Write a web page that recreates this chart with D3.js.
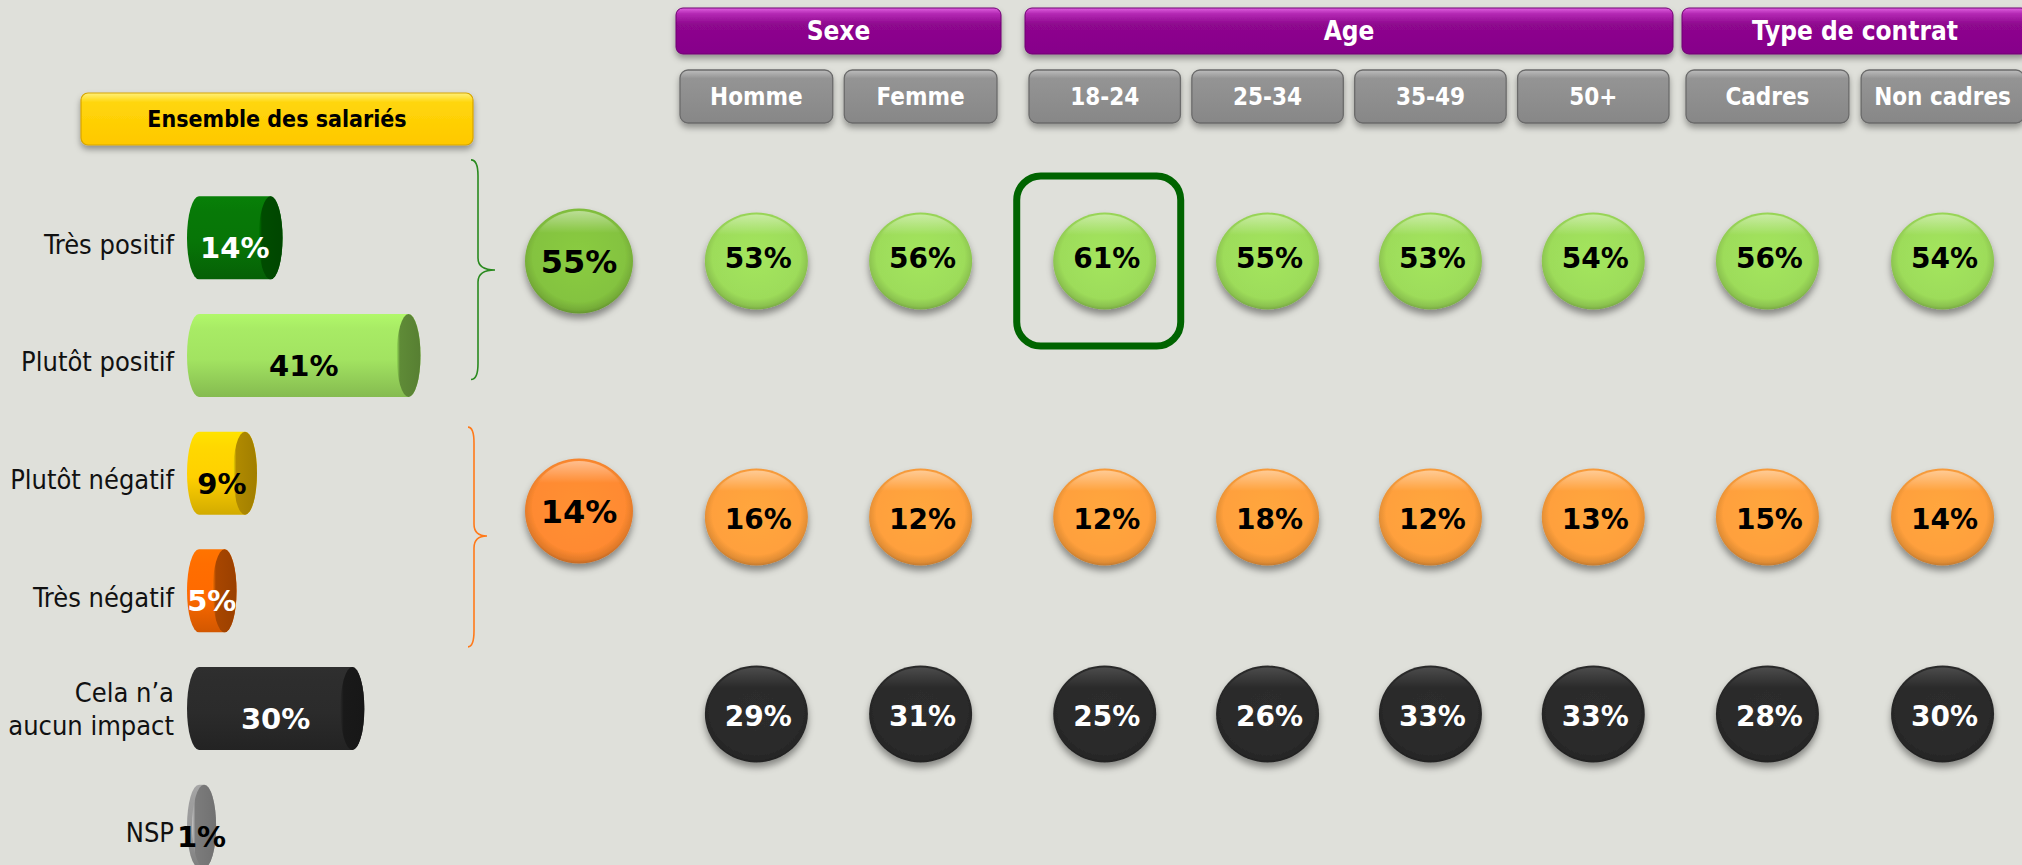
<!DOCTYPE html>
<html><head><meta charset="utf-8">
<script src="https://cdn.jsdelivr.net/npm/d3@7"></script>
<style>
html,body{margin:0;padding:0;background:#dfe0da;overflow:hidden}
svg{display:block}
</style></head><body>
<svg id="chart" width="2022" height="865"></svg>
<script>
// ---------------- DATA ----------------
const totalsLabel = "Ensemble des salariés";
const segments = ["Très positif", "Plutôt positif", "Plutôt négatif", "Très négatif", "Cela n’a\naucun impact", "NSP"];
const overallValues = [14, 41, 9, 5, 30, 1];
const groups = ["Sexe", "Age", "Type de contrat"];
const categories = ["Homme", "Femme", "18-24", "25-34", "35-49", "50+", "Cadres", "Non cadres"];
const categoryGroup = ["Sexe", "Sexe", "Age", "Age", "Age", "Age", "Type de contrat", "Type de contrat"];
const rows = ["Positif", "Négatif", "Aucun impact"];
const overallRowValues = [55, 14];
const positiveValues = [53, 56, 61, 55, 53, 54, 56, 54];
const negativeValues = [16, 12, 12, 18, 12, 13, 15, 14];
const noImpactValues = [29, 31, 25, 26, 33, 33, 28, 30];
const highlightedCategory = "18-24";

// ---------------- STYLE / LAYOUT ----------------
const W = 2022, H = 865;
const condFont = "'DejaVu Sans Condensed','DejaVu Sans',sans-serif";
const pctFont = "'DejaVu Sans',sans-serif";
const barBase = ["#077507", "#a2e361", "#ffd000", "#ff6a00", "#2b2b2b", "#999999"];
const barCap  = ["#004c00", "#5f8b37", "#b08a00", "#a84600", "#191919", "#7c7c7c"];
const barText = ["#fff", "#000", "#000", "#fff", "#fff", "#000"];
const rowBase = ["#9ddc5a", "#ffa03c", "#2b2b2b"];
const rowText = ["#000", "#000", "#fff"];
const overallBase = ["#84c33f", "#ff8a30"];

const svg = d3.select("#chart");
svg.append("rect").attr("width", W).attr("height", H).attr("fill", "#dfe0da");
const defs = svg.append("defs");

function shadow(id, dy, sd, op) {
  const f = defs.append("filter").attr("id", id)
    .attr("x", "-20%").attr("y", "-20%").attr("width", "140%").attr("height", "160%");
  f.append("feDropShadow").attr("dx", 0).attr("dy", dy).attr("stdDeviation", sd)
    .attr("flood-color", "#000").attr("flood-opacity", op);
}
shadow("btnShadow", 4, 3, 0.35);
shadow("circShadow", 5, 3.5, 0.4);

function vGrad(id, stops) {
  const g = defs.append("linearGradient").attr("id", id).attr("x1", 0).attr("y1", 0).attr("x2", 0).attr("y2", 1);
  stops.forEach(s => g.append("stop").attr("offset", s[0]).attr("stop-color", s[1]).attr("stop-opacity", s[2] == null ? 1 : s[2]));
}
function hGrad(id, stops) {
  const g = defs.append("linearGradient").attr("id", id).attr("x1", 0).attr("y1", 0).attr("x2", 1).attr("y2", 0);
  stops.forEach(s => g.append("stop").attr("offset", s[0]).attr("stop-color", s[1]));
}
function rGrad(id, base) {
  const c = d3.color(base);
  const g = defs.append("radialGradient").attr("id", id).attr("cx", "50%").attr("cy", "46%").attr("r", "55%");
  [["0%", c.brighter(0.12)], ["78%", c], ["92%", c.darker(0.35)], ["100%", c.darker(0.9)]]
    .forEach(s => g.append("stop").attr("offset", s[0]).attr("stop-color", s[1]));
}
vGrad("purple", [["0%", "#e060e0"], ["12%", "#b52ab5"], ["35%", "#8e078e"], ["100%", "#86038a"]]);
vGrad("grey", [["0%", "#bdbdbd"], ["16%", "#949494"], ["100%", "#878787"]]);
vGrad("yellow", [["0%", "#fff07a"], ["18%", "#ffd60a"], ["100%", "#ffc800"]]);
vGrad("gloss", [["0%", "#ffffff", 0.45], ["22%", "#ffffff", 0.0], ["100%", "#ffffff", 0]]);

// ---------------- LEFT: cylinders ----------------
const x = d3.scaleLinear().domain([0, 100]).range([199, 710]);
const y = d3.scalePoint().domain(segments).range([179, 885]).padding(0.5);
const barH = 83, capRx = 12;

segments.forEach((s, i) => {
  const c = d3.color(barBase[i]);
  vGrad("body" + i, [["0%", c.brighter(0.25)], ["18%", c.brighter(0.1)], ["55%", c], ["100%", c.darker(0.55)]]);
  const cc = d3.color(barCap[i]);
  hGrad("cap" + i, [["0%", cc.brighter(1.4)], ["14%", cc], ["100%", cc.darker(0.25)]]);
});

const barG = svg.append("g");
segments.forEach((s, i) => {
  const cy = y(s), top = cy - barH / 2, bot = cy + barH / 2, ry = barH / 2;
  const x0 = x(0), x1 = x(overallValues[i]);
  barG.append("path")
    .attr("d", `M${x0},${top} L${x1},${top} A${capRx},${ry} 0 0 1 ${x1},${bot} L${x0},${bot} A${capRx},${ry} 0 0 1 ${x0},${top} Z`)
    .attr("fill", `url(#body${i})`);
  barG.append("ellipse").attr("cx", x1).attr("cy", cy).attr("rx", capRx).attr("ry", ry)
    .attr("fill", `url(#cap${i})`);
  // value label
  barG.append("text")
    .attr("x", (x0 - capRx + x1 + capRx) / 2).attr("y", cy + 10)
    .attr("dy", "0.36em").attr("text-anchor", "middle")
    .attr("font-family", pctFont).attr("font-weight", "bold").attr("font-size", 29)
    .attr("fill", barText[i]).text(overallValues[i] + "%");
  // category label
  const lines = s.split("\n");
  const t = barG.append("text").attr("text-anchor", "end")
    .attr("font-family", condFont).attr("font-size", 27).attr("fill", "#111");
  lines.forEach((ln, k) => {
    t.append("tspan").attr("x", 174)
      .attr("y", cy + 6 + (k - (lines.length - 1) / 2) * 33 - (lines.length > 1 ? 6 : 0))
      .attr("dy", "0.36em").text(ln);
  });
});

// header "Ensemble des salariés"
const ensG = svg.append("g");
ensG.append("rect").attr("x", 81).attr("y", 93).attr("width", 392).attr("height", 52).attr("rx", 7)
  .attr("fill", "url(#yellow)").attr("stroke", "#d7a500").attr("stroke-width", 1.2).attr("filter", "url(#btnShadow)");
ensG.append("text").attr("x", 277).attr("y", 119).attr("dy", "0.36em").attr("text-anchor", "middle")
  .attr("font-family", condFont).attr("font-weight", "bold").attr("font-size", 23).attr("fill", "#000")
  .text(totalsLabel);

// brackets
function brace(xl, xm, xt, top, bot, tip) {
  return `M${xl},${top} Q${xm},${top} ${xm},${top + 16} L${xm},${tip - 12} Q${xm},${tip} ${xt},${tip} ` +
         `Q${xm},${tip} ${xm},${tip + 12} L${xm},${bot - 16} Q${xm},${bot} ${xl},${bot}`;
}
const rowY = d3.scaleOrdinal().domain(rows).range([261, 517, 714]);
svg.append("path").attr("d", brace(471, 478, 495, y(segments[0]) - 78, y(segments[1]) + 24, rowY(rows[0]) + 9))
  .attr("fill", "none").attr("stroke", "#2a8a1e").attr("stroke-width", 1.6);
svg.append("path").attr("d", brace(468, 474, 487, y(segments[2]) - 46, y(segments[3]) + 56, rowY(rows[1]) + 19))
  .attr("fill", "none").attr("stroke", "#ff7a1a").attr("stroke-width", 1.6);

// overall circles
overallRowValues.forEach((v, i) => {
  rGrad("ov" + i, overallBase[i]);
  const cy = rowY(rows[i]) - (i === 1 ? 6 : 0);
  const g = svg.append("g");
  g.append("ellipse").attr("cx", 579).attr("cy", cy).attr("rx", 54).attr("ry", 52.5)
    .attr("fill", `url(#ov${i})`).attr("filter", "url(#circShadow)");
  g.append("ellipse").attr("cx", 579).attr("cy", cy).attr("rx", 51).attr("ry", 50)
    .attr("fill", "url(#gloss)");
  g.append("text").attr("x", 579).attr("y", cy).attr("dy", "0.36em").attr("text-anchor", "middle")
    .attr("font-family", pctFont).attr("font-weight", "bold").attr("font-size", 32).attr("fill", "#000")
    .text(v + "%");
});

// ---------------- RIGHT: headers, buttons, circles ----------------
const groupRanges = { "Sexe": [680, 997], "Age": [1029, 1669], "Type de contrat": [1686, 2024] };
const colScales = {};
groups.forEach(g => {
  colScales[g] = d3.scaleBand()
    .domain(categories.filter((c, i) => categoryGroup[i] === g))
    .range(groupRanges[g]).paddingInner(0.07);
});
const colScale = c => colScales[categoryGroup[categories.indexOf(c)]];
const colX = c => colScale(c)(c);
const colCx = c => colX(c) + colScale(c).bandwidth() / 2;

// group headers
groups.forEach(g => {
  const sc = colScales[g], dom = sc.domain();
  const x0 = sc(dom[0]) - 4, x1 = sc(dom[dom.length - 1]) + sc.bandwidth() + 4;
  const gg = svg.append("g");
  gg.append("rect").attr("x", x0).attr("y", 8).attr("width", x1 - x0).attr("height", 46).attr("rx", 7)
    .attr("fill", "url(#purple)").attr("stroke", "#6e0070").attr("stroke-width", 1)
    .attr("filter", "url(#btnShadow)");
  gg.append("text").attr("x", (x0 + x1) / 2).attr("y", 31).attr("dy", "0.36em").attr("text-anchor", "middle")
    .attr("font-family", condFont).attr("font-weight", "bold").attr("font-size", 26).attr("fill", "#fff")
    .text(g);
});

// category buttons
categories.forEach(c => {
  const bx = colX(c), bw = colScale(c).bandwidth();
  const gg = svg.append("g");
  gg.append("rect").attr("x", bx).attr("y", 70).attr("width", bw).attr("height", 53).attr("rx", 8)
    .attr("fill", "url(#grey)").attr("stroke", "#6a6a6a").attr("stroke-width", 1.3)
    .attr("filter", "url(#btnShadow)");
  gg.append("text").attr("x", bx + bw / 2).attr("y", 96.5).attr("dy", "0.36em").attr("text-anchor", "middle")
    .attr("font-family", condFont).attr("font-weight", "bold").attr("font-size", 24).attr("fill", "#fff")
    .text(c);
});

// circles per row
const rowValues = [positiveValues, negativeValues, noImpactValues];
rows.forEach((r, ri) => {
  rGrad("row" + ri, rowBase[ri]);
  const cy = rowY(r);
  const g = svg.append("g");
  categories.forEach((c, ci) => {
    const cx = colCx(c);
    g.append("ellipse").attr("cx", cx).attr("cy", cy).attr("rx", 51.5).attr("ry", 48.5)
      .attr("fill", `url(#row${ri})`).attr("filter", "url(#circShadow)");
    g.append("ellipse").attr("cx", cx).attr("cy", cy).attr("rx", 49).attr("ry", 46.5)
      .attr("fill", "url(#gloss)").attr("opacity", ri === 2 ? 0.35 : 1);
    g.append("text").attr("x", cx + 2).attr("y", cy - (ri === 0 ? 3 : -2)).attr("dy", "0.36em").attr("text-anchor", "middle")
      .attr("font-family", pctFont).attr("font-weight", "bold").attr("font-size", 28).attr("fill", rowText[ri])
      .text(rowValues[ri][ci] + "%");
  });
});

// highlight box
const hx = colCx(highlightedCategory) - 6;
svg.append("rect").attr("x", hx - 82).attr("y", rowY(rows[0]) - 85).attr("width", 164).attr("height", 170)
  .attr("rx", 24).attr("fill", "none").attr("stroke", "#006400").attr("stroke-width", 7);
</script>
</body></html>
